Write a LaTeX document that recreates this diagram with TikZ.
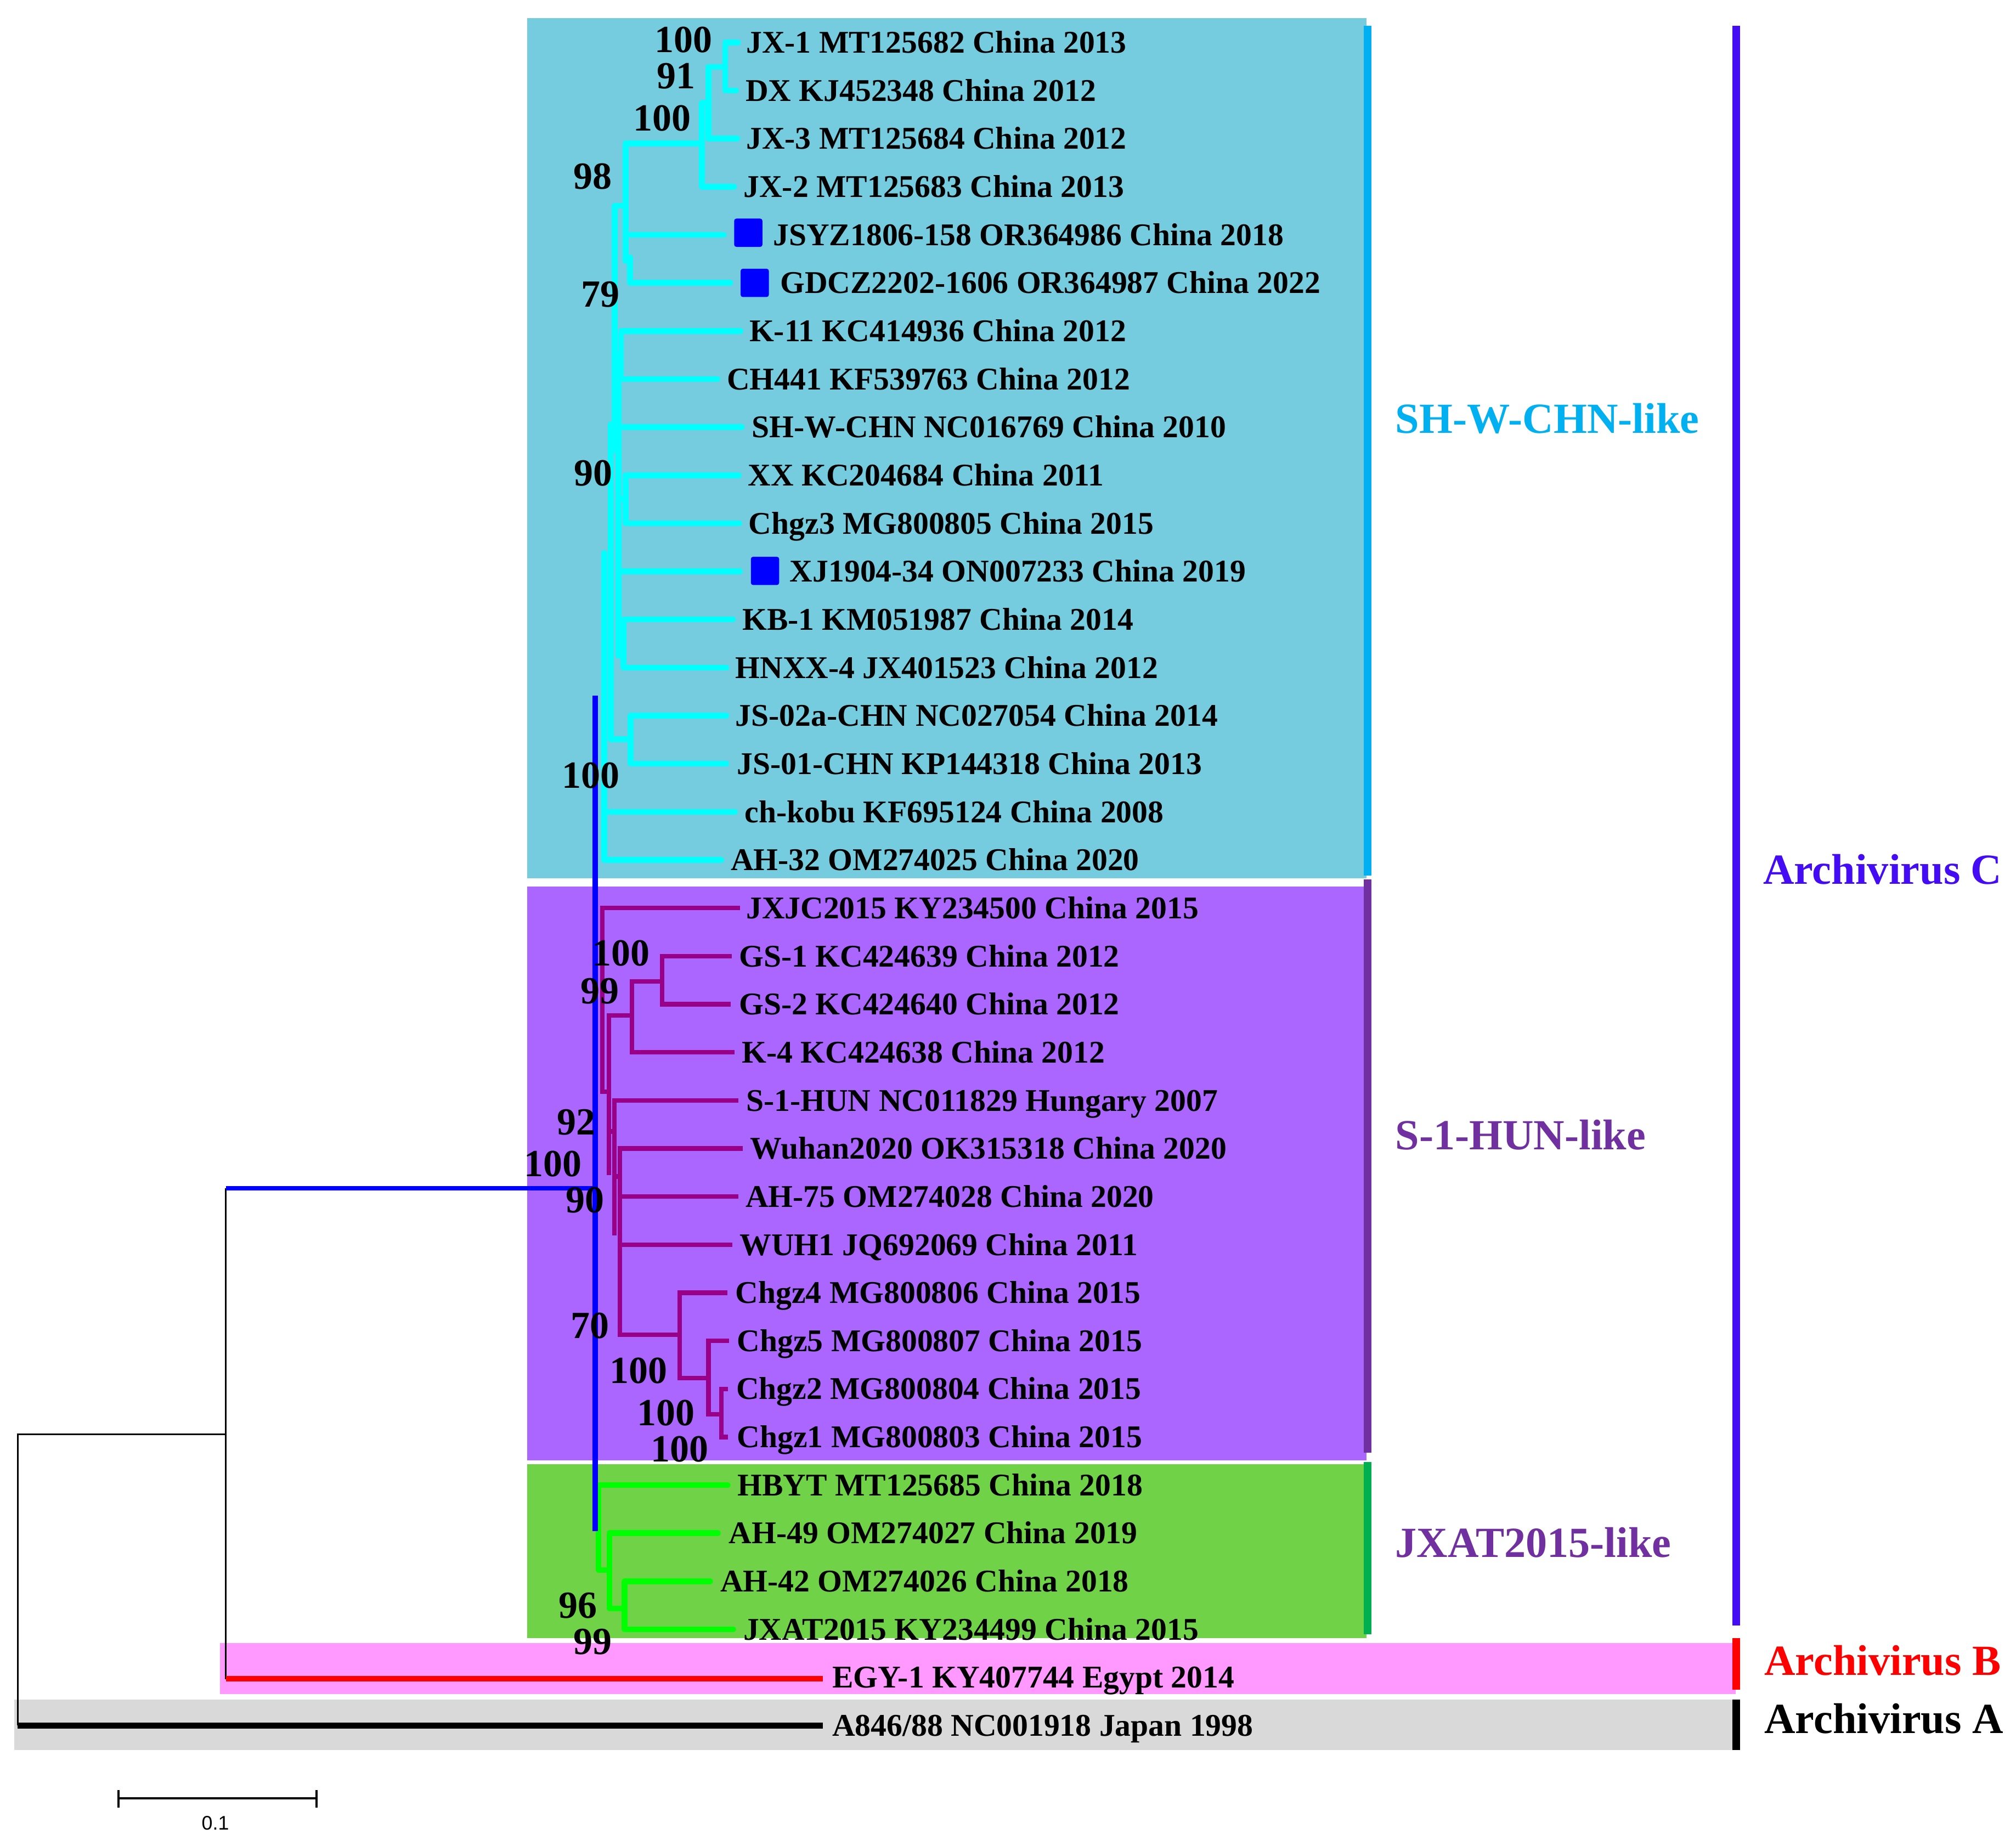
\documentclass[tikz,border=0pt]{standalone}
\usepackage{fontspec}
\setmainfont{Liberation Serif}
\newfontfamily\barfont{Liberation Sans}
\definecolor{cybox}{RGB}{116,204,222}
\definecolor{cybar}{RGB}{0,176,240}
\definecolor{pubox}{RGB}{170,102,255}
\definecolor{pubar}{RGB}{112,48,160}
\definecolor{grbox}{RGB}{112,210,70}
\definecolor{grbar}{RGB}{0,176,80}
\definecolor{pkbox}{RGB}{255,153,255}
\definecolor{gybox}{RGB}{217,217,217}
\definecolor{archc}{RGB}{68,12,244}
\definecolor{cyline}{RGB}{0,255,255}
\definecolor{puline}{RGB}{153,0,136}
\definecolor{grline}{RGB}{0,255,0}
\definecolor{blline}{RGB}{0,0,255}
\tikzset{
 leaflab/.style={anchor=base west, inner sep=0pt, font=\fontsize{14}{16}\selectfont\bfseries},
 bslab/.style={anchor=center, inner sep=0pt, font=\fontsize{17}{19}\selectfont\bfseries},
 cladelab/.style={anchor=base west, inner sep=0pt, font=\fontsize{19}{21}\selectfont\bfseries},
 cyl/.style={draw=cyline, line width=2.55pt, line cap=round, line join=round},
 pul/.style={draw=puline, line width=2pt, line cap=rect, line join=miter},
 grl/.style={draw=grline, line width=2.55pt, line cap=round, line join=round},
 cbar/.style={line width=3.4pt},
 bsq/.style={fill=blline, minimum size=0.44cm, inner sep=0pt, rounded corners=1pt},
}
\newcommand\leaf[4]{\node[leaflab] (#1) at (#2,{33+37.4*(#3)+8.2}) {#4};}
\newcommand\bs[4]{\node[bslab] (#1) at (#2,#3) {#4};}
\begin{document}
\begin{tikzpicture}[x=0.02cm,y=-0.02cm]
\useasboundingbox[fill=white] (0,0) rectangle (1568,1431);
% clade boxes
\fill[cybox] (410,14) rectangle (1063,683);
\fill[pubox] (410,689.5) rectangle (1063,1135.7);
\fill[grbox] (410,1138.7) rectangle (1063,1274.2);
\fill[pkbox] (171,1278) rectangle (1350,1317.5);
\fill[gybox] (11,1322) rectangle (1350,1361);
% side bars
\draw[cbar, cybar] (1063.7,20) -- (1063.7,681);
\draw[cbar, pubar] (1063.7,684) -- (1063.7,1130);
\draw[cbar, grbar] (1063.7,1137) -- (1063.7,1271);
\draw[cbar, archc] (1350.5,20) -- (1350.5,1264);
\draw[cbar, red] (1350.5,1274) -- (1350.5,1314);
\draw[cbar, black] (1350.5,1322) -- (1350.5,1361);
% ---- cyan clade ----
\draw[cyl] (574,33) -| (564,70.4) -- (572.5,70.4);
\draw[cyl] (564,52) -- (551,52) |- (573.5,107.8);
\draw[cyl] (551,80) -- (546,80) |- (571,145.2);
\draw[cyl] (546,111.5) -- (486.5,111.5) -- (486.5,203);
\draw[cyl] (486.5,182.6) -- (563,182.6);
\draw[cyl] (486.5,200) -- (490,200) |- (568,220);
\draw[cyl] (486.5,160) -- (478,160);
\draw[cyl] (478,160) -- (478,350);
\draw[cyl] (481,276) -- (481,510);
\draw[cyl] (475,330) -- (475,575);
\draw[cyl] (470,430) -- (470,668.8);
\draw[cyl] (576,257.4) -| (483,294.8) -- (558,294.8);
\draw[cyl] (478,276) -- (483,276);
\draw[cyl] (478,332.2) -- (577,332.2);
\draw[cyl] (574.6,369.6) -| (486.5,407) -- (575,407);
\draw[cyl] (481,388) -- (486.5,388);
\draw[cyl] (481,444.4) -- (575.5,444.4);
\draw[cyl] (570,481.8) -| (485,519.2) -- (565,519.2);
\draw[cyl] (481,500) -- (485,500);
\draw[cyl] (565,556.6) -| (490.5,594) -- (565,594);
\draw[cyl] (475,575) -- (490.5,575);
\draw[cyl] (470,631.4) -- (571.7,631.4);
\draw[cyl] (470,668.8) -- (561,668.8);
% ---- purple clade ----
\draw[pul] (574,706.2) -| (468.5,849) -- (473.6,849);
\draw[pul] (473.6,789.6) -- (473.6,912);
\draw[pul] (473.6,789.6) -- (491.5,789.6);
\draw[pul] (515,763.4) -- (491.5,763.4) |- (569.6,818.4);
\draw[pul] (567.5,743.6) -| (515,781) -- (566.6,781);
\draw[pul] (473.6,880) -- (478,880);
\draw[pul] (478,855.8) -- (478,959);
\draw[pul] (478,855.8) -- (572.5,855.8);
\draw[pul] (478,915) -- (482,915);
\draw[pul] (482,893.2) -- (576,893.2);
\draw[pul] (482,930.6) -- (572.5,930.6);
\draw[pul] (482,893.2) -- (482,1038) -- (528.6,1038);
\draw[pul] (482,968) -- (568,968);
\draw[pul] (564,1005.4) -| (528.6,1071.7) -- (551,1071.7);
\draw[pul] (565.3,1042.8) -| (551,1100) -- (561,1100);
\draw[pul] (564.5,1080.2) -| (561,1117.6) -- (564.5,1117.6);
% ---- green clade ----
\draw[grl] (566,1155) -| (465.5,1221) -- (474,1221);
\draw[grl] (558.4,1192.4) -| (474,1251) -- (485.7,1251);
\draw[grl] (552.3,1229.8) -| (485.7,1267.2) -- (570.3,1267.2);
% ---- backbone ----
\draw[line width=0.8pt] (175.6,924) -- (175.6,1306);
\draw[line width=0.8pt] (175.6,1115.5) -- (13.8,1115.5) -- (13.8,1342);
\draw[line width=2.55pt] (13.8,1342) -- (640,1342);
\draw[red, line width=2.55pt] (175.6,1305.5) -- (640,1305.5);
\draw[blline, line width=2pt] (175.6,924) -- (463,924);
\draw[blline, line width=2.55pt] (463,541) -- (463,1191);
% ---- squares ----
\node[bsq] (sq1) at (582,181) {};
\node[bsq] (sq2) at (587,220) {};
\node[bsq] (sq3) at (595,444) {};
% ---- leaves ----
\leaf{l0}{580}{0}{JX-1 MT125682 China 2013}
\leaf{l1}{579.5}{1}{DX KJ452348 China 2012}
\leaf{l2}{580}{2}{JX-3 MT125684 China 2012}
\leaf{l3}{578}{3}{JX-2 MT125683 China 2013}
\leaf{l4}{601}{4}{JSYZ1806-158 OR364986 China 2018}
\leaf{l5}{606.5}{5}{GDCZ2202-1606 OR364987 China 2022}
\leaf{l6}{582.5}{6}{K-11 KC414936 China 2012}
\leaf{l7}{565}{7}{CH441 KF539763 China 2012}
\leaf{l8}{584.5}{8}{SH-W-CHN NC016769 China 2010}
\leaf{l9}{581.5}{9}{XX KC204684 China 2011}
\leaf{l10}{582}{10}{Chgz3 MG800805 China 2015}
\leaf{l11}{614}{11}{XJ1904-34 ON007233 China 2019}
\leaf{l12}{577}{12}{KB-1 KM051987 China 2014}
\leaf{l13}{571.7}{13}{HNXX-4 JX401523 China 2012}
\leaf{l14}{571.7}{14}{JS-02a-CHN NC027054 China 2014}
\leaf{l15}{573}{15}{JS-01-CHN KP144318 China 2013}
\leaf{l16}{578.8}{16}{ch-kobu KF695124 China 2008}
\leaf{l17}{568}{17}{AH-32 OM274025 China 2020}
\leaf{l18}{580}{18}{JXJC2015 KY234500 China 2015}
\leaf{l19}{574.5}{19}{GS-1 KC424639 China 2012}
\leaf{l20}{574.5}{20}{GS-2 KC424640 China 2012}
\leaf{l21}{576.7}{21}{K-4 KC424638 China 2012}
\leaf{l22}{580}{22}{S-1-HUN NC011829 Hungary 2007}
\leaf{l23}{583}{23}{Wuhan2020 OK315318 China 2020}
\leaf{l24}{579.5}{24}{AH-75 OM274028 China 2020}
\leaf{l25}{575}{25}{WUH1 JQ692069 China 2011}
\leaf{l26}{571.7}{26}{Chgz4 MG800806 China 2015}
\leaf{l27}{573}{27}{Chgz5 MG800807 China 2015}
\leaf{l28}{572.3}{28}{Chgz2 MG800804 China 2015}
\leaf{l29}{573}{29}{Chgz1 MG800803 China 2015}
\leaf{l30}{573.3}{30}{HBYT MT125685 China 2018}
\leaf{l31}{566.6}{31}{AH-49 OM274027 China 2019}
\leaf{l32}{559.9}{32}{AH-42 OM274026 China 2018}
\leaf{l33}{577.8}{33}{JXAT2015 KY234499 China 2015}
\leaf{l34}{647}{34}{EGY-1 KY407744 Egypt 2014}
\leaf{l35}{647}{35}{A846/88 NC001918 Japan 1998}
% ---- bootstrap values ----
\bs{b1}{531.5}{31}{100}
\bs{b2}{526}{59}{91}
\bs{b3}{515}{92}{100}
\bs{b4}{461}{137}{98}
\bs{b5}{467}{229}{79}
\bs{b6}{461.5}{368}{90}
\bs{b7}{459.5}{603}{100}
\bs{b8}{483}{741.5}{100}
\bs{b9}{466.5}{771}{99}
\bs{b10}{448}{873}{92}
\bs{b11}{430}{905}{100}
\bs{b12}{455}{933.5}{90}
\bs{b13}{459}{1031}{70}
\bs{b14}{496.6}{1066}{100}
\bs{b15}{518}{1099}{100}
\bs{b16}{528.6}{1127}{100}
\bs{b17}{449.5}{1248.5}{96}
\bs{b18}{461}{1277}{99}
% ---- clade labels ----
\node[cladelab, text=cybar] (cl1) at (1085,337) {SH-W-CHN-like};
\node[cladelab, text=pubar] (cl2) at (1085,894) {S-1-HUN-like};
\node[cladelab, text=pubar] (cl3) at (1085,1211) {JXAT2015-like};
\node[cladelab, text=archc] (cl4) at (1371,687.5) {Archivirus C};
\node[cladelab, text=red] (cl5) at (1372,1302.6) {Archivirus B};
\node[cladelab, text=black] (cl6) at (1372,1348) {Archivirus A};
% ---- scale bar ----
\coordinate (s1) at (92,1398.5);
\coordinate (s2) at (246,1398.5);
\draw[line width=1pt] (s1) -- (s2);
\draw[line width=1pt] (92,1392) -- (92,1406);
\draw[line width=1pt] (246,1392) -- (246,1406);
\node[inner sep=0pt, font=\barfont\fontsize{8.7}{10}\selectfont] (sc) at (167.5,1418) {0.1};
\end{tikzpicture}
\end{document}
